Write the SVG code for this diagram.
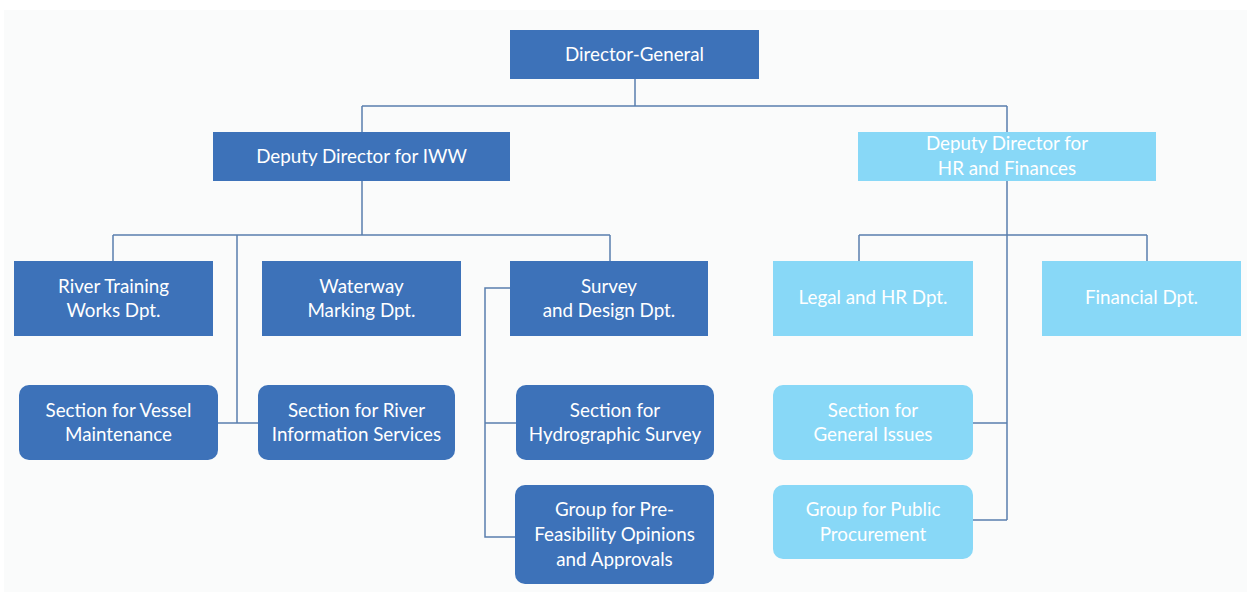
<svg xmlns="http://www.w3.org/2000/svg" width="1247" height="592" viewBox="0 0 1247 592">
  <defs>
    <style>
      .dark { fill: #3d72b9; }
      .light { fill: #88d8f7; }
      .lbl { font-family: Lato, "Liberation Sans", sans-serif; font-size: 18.8px; fill: #ffffff; text-anchor: middle; }
      .conn { fill: none; stroke: #5a7fae; stroke-width: 1.5; }
    </style>
  </defs>
  <rect x="0" y="0" width="1247" height="592" fill="#ffffff"/>
  <rect x="4" y="10" width="1243" height="582" fill="#fafbfb"/>

  <g id="connectors">
    <path class="conn" d="M635,79 V106 M362,106 H1007 M362,106 V132 M1007,106 V132"/>
    <path class="conn" d="M362,181 V235 M113,235 H610 M113,235 V261 M610,235 V261"/>
    <path class="conn" d="M237,235 V423 M218,423 H258"/>
    <path class="conn" d="M510,288 H485 V537 H515 M485,423 H516"/>
    <path class="conn" d="M1007,181 V520 M859,235 H1147 M859,235 V261 M1147,235 V261 M973,423 H1007 M973,520 H1007"/>
  </g>

  <g id="director-general">
    <rect class="dark" x="510" y="30" width="249" height="49"/>
    <text class="lbl" x="634.5" y="61">Director-General</text>
  </g>
  <g id="deputy-iww">
    <rect class="dark" x="213" y="132" width="297" height="49"/>
    <text class="lbl" x="361.5" y="163">Deputy Director for IWW</text>
  </g>
  <g id="deputy-hr">
    <rect class="light" x="858" y="132" width="298" height="49"/>
    <text class="lbl" x="1007" y="150">Deputy Director for</text>
    <text class="lbl" x="1007" y="175">HR and Finances</text>
  </g>

  <g id="river-training">
    <rect class="dark" x="14" y="261" width="199" height="75"/>
    <text class="lbl" x="113.5" y="293">River Training</text>
    <text class="lbl" x="113.5" y="317">Works Dpt.</text>
  </g>
  <g id="waterway-marking">
    <rect class="dark" x="262" y="261" width="199" height="75"/>
    <text class="lbl" x="361.5" y="293">Waterway</text>
    <text class="lbl" x="361.5" y="317">Marking Dpt.</text>
  </g>
  <g id="survey-design">
    <rect class="dark" x="510" y="261" width="198" height="75"/>
    <text class="lbl" x="609" y="293">Survey</text>
    <text class="lbl" x="609" y="317">and Design Dpt.</text>
  </g>
  <g id="legal-hr">
    <rect class="light" x="773" y="261" width="200" height="75"/>
    <text class="lbl" x="873" y="304">Legal and HR Dpt.</text>
  </g>
  <g id="financial">
    <rect class="light" x="1042" y="261" width="199" height="75"/>
    <text class="lbl" x="1141.5" y="304">Financial Dpt.</text>
  </g>

  <g id="vessel-maintenance">
    <rect class="dark" x="19" y="385" width="199" height="75" rx="10"/>
    <text class="lbl" x="118.5" y="417">Section for Vessel</text>
    <text class="lbl" x="118.5" y="441">Maintenance</text>
  </g>
  <g id="river-information">
    <rect class="dark" x="258" y="385" width="197" height="75" rx="10"/>
    <text class="lbl" x="356.5" y="417">Section for River</text>
    <text class="lbl" x="356.5" y="441">Information Services</text>
  </g>
  <g id="hydrographic-survey">
    <rect class="dark" x="516" y="385" width="198" height="75" rx="10"/>
    <text class="lbl" x="615" y="417">Section for</text>
    <text class="lbl" x="615" y="441">Hydrographic Survey</text>
  </g>
  <g id="pre-feasibility">
    <rect class="dark" x="515" y="485" width="199" height="99" rx="10"/>
    <text class="lbl" x="614.5" y="516">Group for Pre-</text>
    <text class="lbl" x="614.5" y="541">Feasibility Opinions</text>
    <text class="lbl" x="614.5" y="566">and Approvals</text>
  </g>
  <g id="general-issues">
    <rect class="light" x="773" y="385" width="200" height="75" rx="10"/>
    <text class="lbl" x="873" y="417">Section for</text>
    <text class="lbl" x="873" y="441">General Issues</text>
  </g>
  <g id="public-procurement">
    <rect class="light" x="773" y="485" width="200" height="74" rx="10"/>
    <text class="lbl" x="873" y="516">Group for Public</text>
    <text class="lbl" x="873" y="541">Procurement</text>
  </g>
</svg>
